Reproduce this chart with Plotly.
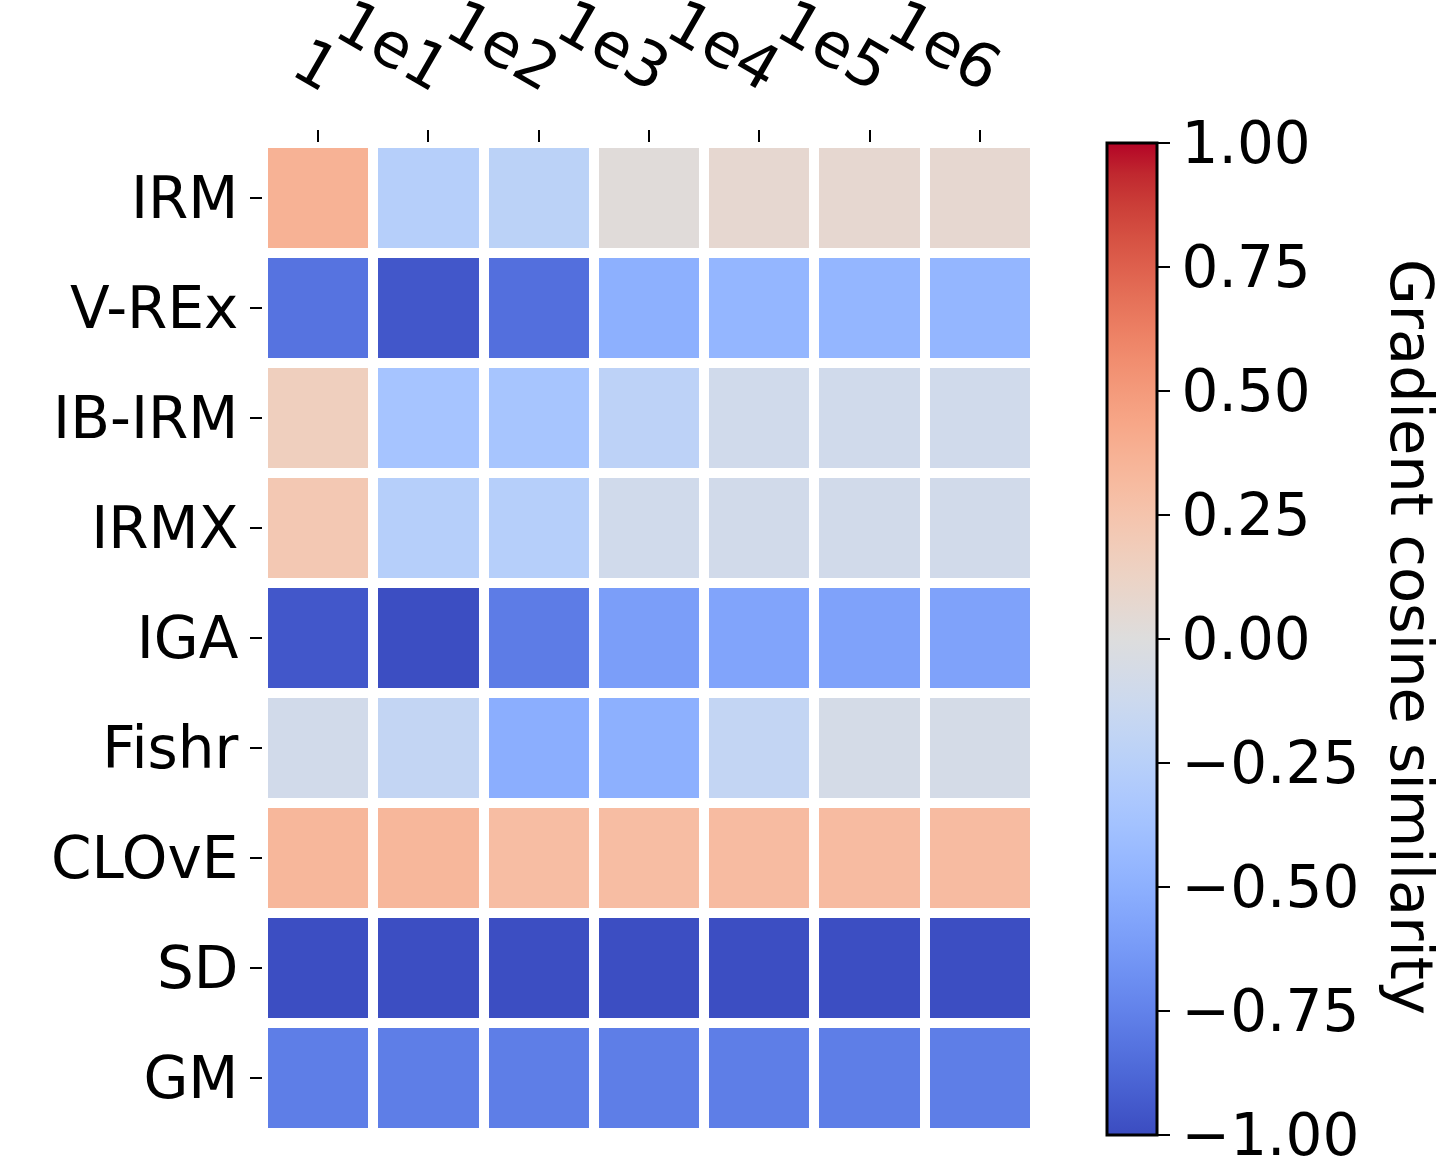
import plotly.graph_objects as go

# Gradient cosine similarity per method (rows) and penalty weight (columns)
methods = ["IRM", "V-REx", "IB-IRM", "IRMX", "IGA", "Fishr", "CLOvE", "SD", "GM"]
weights = ["1", "1e1", "1e2", "1e3", "1e4", "1e5", "1e6"]

irm    = [0.37, -0.26, -0.23, 0.02, 0.07, 0.07, 0.07]
vrex   = [-0.82, -0.95, -0.84, -0.50, -0.46, -0.46, -0.46]
ibirm  = [0.16, -0.36, -0.35, -0.22, -0.10, -0.10, -0.10]
irmx   = [0.22, -0.26, -0.26, -0.10, -0.09, -0.09, -0.09]
iga    = [-0.95, -0.99, -0.78, -0.60, -0.57, -0.58, -0.58]
fishr  = [-0.09, -0.18, -0.51, -0.50, -0.18, -0.07, -0.07]
clove  = [0.34, 0.34, 0.30, 0.30, 0.31, 0.31, 0.31]
sd     = [-0.99, -0.99, -0.99, -0.99, -0.99, -0.99, -0.99]
gm     = [-0.77, -0.77, -0.77, -0.77, -0.77, -0.77, -0.77]

z = [irm, vrex, ibirm, irmx, iga, fishr, clove, sd, gm]

# Cool-warm diverging map
cw_rgb = [
    (59, 76, 192), (68, 90, 204), (77, 104, 215), (87, 117, 225), (98, 130, 234),
    (108, 142, 241), (119, 154, 247), (130, 165, 251), (141, 176, 254), (152, 185, 255),
    (163, 194, 255), (174, 201, 253), (184, 208, 249), (194, 213, 244), (204, 217, 238),
    (213, 219, 230), (221, 221, 221), (229, 216, 209), (236, 211, 197), (241, 204, 185),
    (245, 196, 173), (247, 187, 160), (247, 177, 148), (247, 166, 135), (244, 154, 123),
    (241, 141, 111), (236, 127, 99), (229, 112, 88), (222, 96, 77), (213, 80, 66),
    (203, 62, 56), (192, 40, 47), (180, 4, 38),
]
n = len(cw_rgb) - 1
coolwarm = [[i / n, f"rgb({r},{g},{b})"] for i, (r, g, b) in enumerate(cw_rgb)]

cbar_vals = [-0.99999, -0.75, -0.5, -0.25, 0, 0.25, 0.5, 0.75, 1]
cbar_text = ["\u22121.00", "\u22120.75", "\u22120.50", "\u22120.25",
             "0.00", "0.25", "0.50", "0.75", "1.00"]

W, H = 1450, 1158
FONT = "DejaVu Sans"
TICK_SIZE = 58

fig = go.Figure(
    go.Heatmap(
        z=z,
        x=weights,
        y=methods,
        zmin=-1,
        zmax=1,
        colorscale=coolwarm,
        xgap=10,
        ygap=10,
        colorbar=dict(
            thickness=50,
            thicknessmode="pixels",
            len=992,
            lenmode="pixels",
            x=1107 / W,
            xanchor="left",
            xpad=0,
            y=1 - 1135 / H,
            yanchor="bottom",
            ypad=0,
            outlinewidth=3,
            outlinecolor="black",
            tickmode="array",
            tickvals=cbar_vals,
            ticktext=cbar_text,
            ticks="outside",
            ticklen=12,
            tickwidth=2,
            tickcolor="black",
            ticklabeloverflow="allow",
            tickfont=dict(family=FONT, size=TICK_SIZE, color="black"),
        ),
    )
)

fig.update_layout(
    width=W,
    height=H,
    margin=dict(l=0, r=0, t=0, b=0, autoexpand=False),
    paper_bgcolor="white",
    plot_bgcolor="white",
    xaxis=dict(
        domain=[263 / W, 1035 / W],
        side="top",
        automargin=False,
        tickangle=30,
        ticks="outside",
        ticklen=12,
        tickwidth=2,
        tickcolor="black",
        ticklabelshift=20,
        ticklabelstandoff=8,
        tickfont=dict(family=FONT, size=62, color="black"),
        showgrid=False,
        zeroline=False,
        showline=False,
    ),
    yaxis=dict(
        domain=[1 - 1133 / H, 1 - 143 / H],
        autorange="reversed",
        automargin=False,
        ticks="outside",
        ticklen=12,
        tickwidth=2,
        tickcolor="black",
        tickfont=dict(family=FONT, size=TICK_SIZE, color="black"),
        showgrid=False,
        zeroline=False,
        showline=False,
    ),
    annotations=[
        dict(
            text="Gradient cosine similarity",
            xref="paper",
            yref="paper",
            x=1412 / W,
            y=1 - 637 / H,
            xanchor="center",
            yanchor="middle",
            textangle=90,
            showarrow=False,
            font=dict(family=FONT, size=59, color="black"),
        )
    ],
)

fig.write_html("out.html")
